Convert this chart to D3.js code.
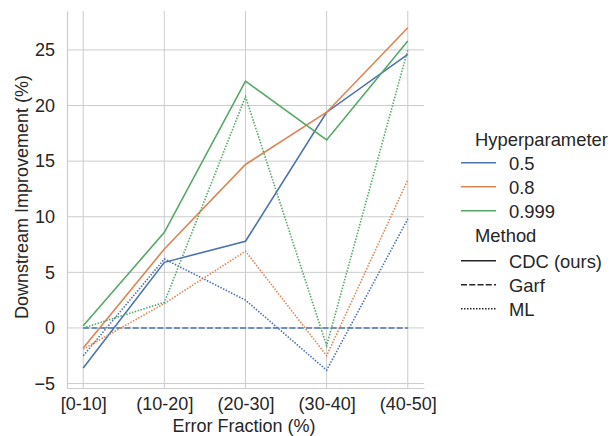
<!DOCTYPE html>
<html>
<head>
<meta charset="utf-8">
<script src="https://cdn.jsdelivr.net/npm/d3@7"></script>
<style>
  body { margin: 0; background: #fff; }
  text { font-family: "Liberation Sans", Arial, sans-serif; fill: #262626; }
</style>
</head>
<body>
<div id="chart"></div>
<script>
var w = 613, h = 436;

// data
var categories = ["[0-10]", "(10-20]", "(20-30]", "(30-40]", "(40-50]"];
var hyperparams = ["0.5", "0.8", "0.999"];
var methods = ["CDC (ours)", "Garf", "ML"];
var colors = ["#4c72b0", "#dd8452", "#55a868"];
var dashes = [null, "6,2.25", "1.5,1.5"];
var yTicks = [-5, 0, 5, 10, 15, 20, 25];

var cdc_05 = [-3.6, 5.9, 7.8, 19.4, 24.6];
var cdc_08 = [-1.8, 7.1, 14.7, 19.4, 27.0];
var cdc_0999 = [0.2, 8.6, 22.2, 16.9, 25.8];
var garf_05 = [0, 0, 0, 0, 0];
var ml_05 = [-2.5, 6.2, 2.5, -3.8, 9.8];
var ml_08 = [-1.9, 2.2, 6.9, -2.5, 13.3];
var ml_0999 = [0.0, 2.3, 20.8, -1.6, 25.0];

var series = [
  { hue: 0, style: 0, values: cdc_05 },
  { hue: 0, style: 1, values: garf_05 },
  { hue: 0, style: 2, values: ml_05 },
  { hue: 1, style: 0, values: cdc_08 },
  { hue: 1, style: 2, values: ml_08 },
  { hue: 2, style: 0, values: cdc_0999 },
  { hue: 2, style: 2, values: ml_0999 }
];

var plotL = 67, plotR = 424, plotT = 11, plotB = 388;
var fs = "18px", fsLeg = "18.4px";

var svg = d3.select("#chart").append("svg")
    .attr("width", w)
    .attr("height", h);

var x = d3.scalePoint()
    .domain(categories)
    .range([plotL, plotR])
    .padding(0.2);

var y = d3.scaleLinear()
    .domain([-5.4, 28.5])
    .range([plotB, plotT]);

// grid
svg.append("g").selectAll("line")
    .data(yTicks)
    .enter().append("line")
    .attr("x1", plotL).attr("x2", plotR)
    .attr("y1", function (d) { return y(d); })
    .attr("y2", function (d) { return y(d); })
    .attr("stroke", "#cccccc")
    .attr("stroke-width", 1);

svg.append("g").selectAll("line")
    .data(categories)
    .enter().append("line")
    .attr("x1", function (d) { return x(d); })
    .attr("x2", function (d) { return x(d); })
    .attr("y1", plotT).attr("y2", plotB)
    .attr("stroke", "#cccccc")
    .attr("stroke-width", 1);

// axes
var yAxis = svg.append("g")
    .attr("transform", "translate(" + plotL + ",0)")
    .call(d3.axisLeft(y).tickValues(yTicks).tickSize(0).tickPadding(12)
        .tickFormat(function (d) { return d < 0 ? "\u2212" + Math.abs(d) : d; }));
yAxis.select(".domain").attr("stroke", "#cccccc").attr("stroke-width", 1.2);
yAxis.selectAll("text").style("font-size", fs).attr("fill", "#262626");

var xAxis = svg.append("g")
    .attr("transform", "translate(0," + plotB + ")")
    .call(d3.axisBottom(x).tickSize(0).tickPadding(9));
xAxis.select(".domain").attr("stroke", "#cccccc").attr("stroke-width", 1.2);
xAxis.selectAll("text").style("font-size", fs).attr("fill", "#262626");

// axis labels
svg.append("text")
    .attr("x", 244)
    .attr("y", 432)
    .attr("text-anchor", "middle")
    .style("font-size", fs)
    .text("Error Fraction (%)");

svg.append("text")
    .attr("transform", "translate(28,197) rotate(-90)")
    .attr("text-anchor", "middle")
    .style("font-size", fs)
    .text("Downstream Improvement (%)");

// lines
var line = d3.line()
    .x(function (d, i) { return x(categories[i]); })
    .y(function (d) { return y(d); });

svg.append("g").selectAll("path")
    .data(series)
    .enter().append("path")
    .attr("d", function (d) { return line(d.values); })
    .attr("fill", "none")
    .attr("stroke", function (d) { return colors[d.hue]; })
    .attr("stroke-width", 1.6)
    .attr("stroke-dasharray", function (d) { return dashes[d.style]; });

// legend
var lg = svg.append("g");
lg.append("text").attr("x", 475).attr("y", 146)
    .style("font-size", fsLeg).text("Hyperparameter");

var hueRows = [162.7, 186.7, 210.7];
hyperparams.forEach(function (hp, i) {
    lg.append("line")
        .attr("x1", 461).attr("x2", 496)
        .attr("y1", hueRows[i]).attr("y2", hueRows[i])
        .attr("stroke", colors[i]).attr("stroke-width", 1.6);
    lg.append("text").attr("x", 509).attr("y", hueRows[i] + 7)
        .style("font-size", fsLeg).text(hp);
});

lg.append("text").attr("x", 475).attr("y", 241.5)
    .style("font-size", fsLeg).text("Method");

var styleRows = [260.7, 284.7, 308.7];
methods.forEach(function (m, i) {
    lg.append("line")
        .attr("x1", 461).attr("x2", 496)
        .attr("y1", styleRows[i]).attr("y2", styleRows[i])
        .attr("stroke", "#262626").attr("stroke-width", 1.6)
        .attr("stroke-dasharray", dashes[i]);
    lg.append("text").attr("x", 509).attr("y", styleRows[i] + 7)
        .style("font-size", fsLeg).text(m);
});
</script>
</body>
</html>
